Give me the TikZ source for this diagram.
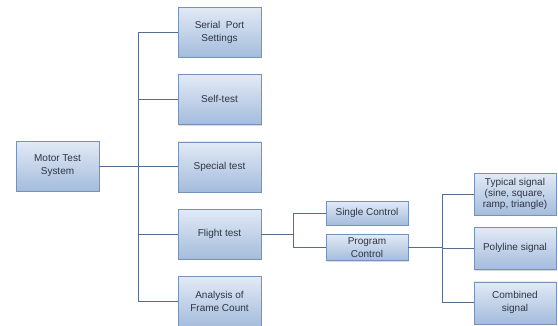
\documentclass[tikz,border=0pt]{standalone}
\usepackage{fontspec}
\setmainfont{Liberation Sans}
\usepackage{xcolor}
\usetikzlibrary{positioning, shadows}

\definecolor{boxtop}{HTML}{E2EAF6}
\definecolor{boxbot}{HTML}{A4BCDC}
\definecolor{boxline}{HTML}{7592B9}
\definecolor{linkcol}{HTML}{566E8E}
\definecolor{txtcol}{HTML}{2E3444}

\begin{document}
\begin{tikzpicture}[
    x=1pt, y=-1pt,
    node distance=17pt and 17pt,
    font=\fontsize{10}{13}\selectfont,
    box/.style={draw=boxline, rectangle, top color=boxtop, bottom color=boxbot, text=txtcol, align=center, inner sep=1pt, minimum width=83pt, minimum height=50pt, drop shadow={shadow xshift=1.2pt, shadow yshift=-1.2pt, opacity=0.3}},
    smallbox/.style={box, minimum width=82pt, minimum height=24pt},
    sigbox/.style={box, minimum width=82pt, minimum height=42pt},
    link/.style={draw=linkcol, line width=0.8pt}
]
\useasboundingbox (0,0) rectangle (558,325);

% Nodes
\node[box] (motor) at (57.5,166) {Motor Test\\System};
\node[box] (serial) at (219.5,32) {Serial\ \ Port\\Settings};
\node[box, below=of serial] (selftest) {Self-test};
\node[box, below=of selftest] (special) {Special test};
\node[box, below=of special] (flight) {Flight test};
\node[box, below=of flight] (analysis) {Analysis of\\Frame Count};
\node[smallbox] (single) at (367,213) {Single Control};
\node[smallbox, below=9pt of single, minimum height=26pt] (program) {Program\\Control};
\node[sigbox, font=\fontsize{10}{11}\selectfont] (typical) at (515,194) {Typical signal\\(sine, square,\\ramp, triangle)};
\node[sigbox, below=12pt of typical] (polyline) {Polyline signal};
\node[sigbox, below=12pt of polyline] (combined) {Combined\\signal};

% Edges
\foreach \t in {serial, selftest, special, flight, analysis}
    \draw[link] (motor.east) -- ++(39,0) |- (\t.west);
\foreach \t in {single, program}
    \draw[link] (flight.east) -- ++(32,0) |- (\t.west);
\foreach \t in {typical, polyline, combined}
    \draw[link] (program.east) -- ++(34,0) |- (\t.west);
\end{tikzpicture}
\end{document}
